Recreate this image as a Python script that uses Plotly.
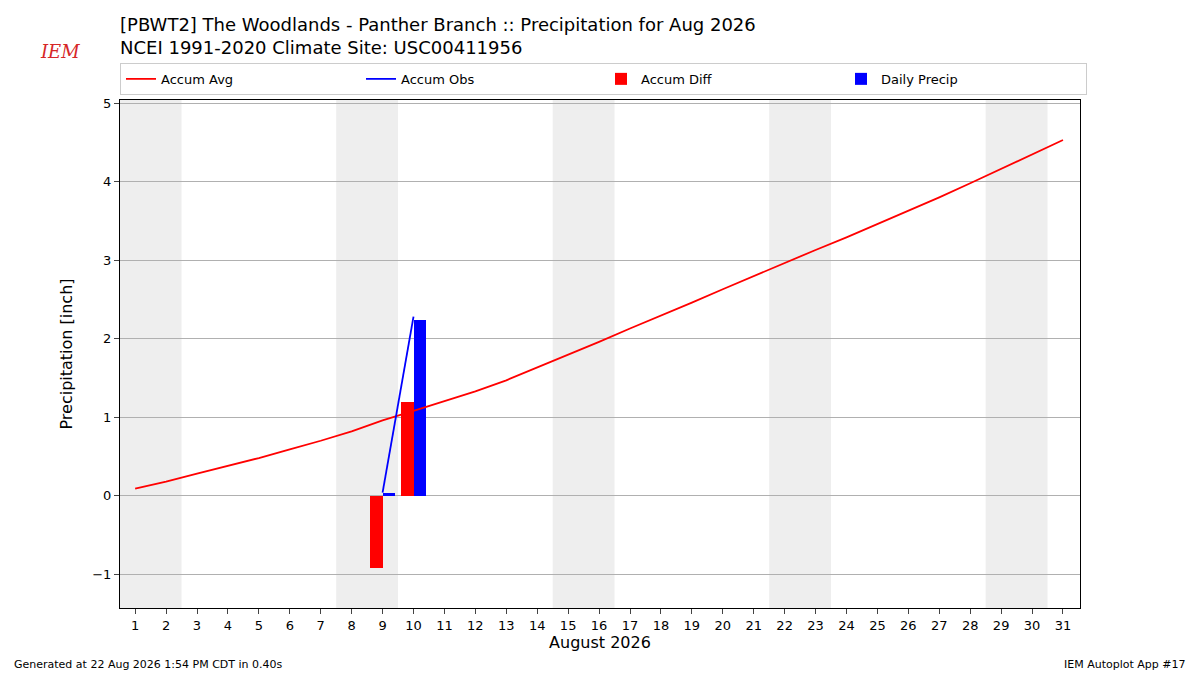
import plotly.graph_objects as go

days = list(range(1, 32))
accum_avg = [0.09, 0.18, 0.28, 0.38, 0.48, 0.59, 0.70, 0.82, 0.96, 1.08, 1.20, 1.33, 1.47, 1.63,
             1.79, 1.96, 2.13, 2.29, 2.46, 2.63, 2.80, 2.97, 3.13, 3.29, 3.46, 3.62, 3.80, 3.98,
             4.16, 4.35, 4.53]
obs_days = [9, 10]
accum_obs = [0.04, 2.28]
daily_precip = [0.04, 2.24]
accum_diff = [o - accum_avg[d - 1] for d, o in zip(obs_days, accum_obs)]
weekends = [(0.5, 2.5), (7.5, 9.5), (14.5, 16.5), (21.5, 23.5), (28.5, 30.5)]

fig = go.Figure()
fig.add_trace(go.Scatter(x=days, y=accum_avg, mode="lines", name="Accum Avg",
                         line=dict(color="red", width=1.8)))
fig.add_trace(go.Scatter(x=obs_days, y=accum_obs, mode="lines", name="Accum Obs",
                         line=dict(color="blue", width=1.8)))
fig.add_trace(go.Bar(x=[d - 0.2 for d in obs_days], y=accum_diff, width=0.4, name="Accum Diff",
                     marker=dict(color="red", line=dict(width=0))))
fig.add_trace(go.Bar(x=[d + 0.2 for d in obs_days], y=daily_precip, width=0.4, name="Daily Precip",
                     marker=dict(color="blue", line=dict(width=0))))

for a, b in weekends:
    fig.add_vrect(x0=a, x1=b, fillcolor="#eeeeee", line_width=0, layer="below")

fig.update_layout(
    width=1200, height=675, plot_bgcolor="white", paper_bgcolor="white",
    font=dict(family="DejaVu Sans", size=13, color="black"),
    margin=dict(l=112, r=128, t=92, b=75),
    barmode="overlay", bargap=0,
    title=dict(text="[PBWT2] The Woodlands - Panther Branch :: Precipitation for Aug 2026<br>"
                    "NCEI 1991-2020 Climate Site: USC00411956",
               x=112 / 1200, xanchor="left", y=0.966, yanchor="top", font=dict(size=18)),
    legend=dict(orientation="h", x=0, xanchor="left", y=1.01, yanchor="bottom",
                entrywidth=0.25, entrywidthmode="fraction",
                bordercolor="#cccccc", borderwidth=1, font=dict(size=13)),
    xaxis=dict(range=[0.51, 31.55], tickmode="array", tickvals=days, ticks="outside",
               title=dict(text="August 2026", font=dict(size=16), standoff=4),
               showline=True, linecolor="black", mirror=True, showgrid=False, zeroline=False),
    yaxis=dict(range=[-1.43, 5.04], tickvals=[-1, 0, 1, 2, 3, 4, 5],
               ticktext=["\u22121", "0", "1", "2", "3", "4", "5"], ticks="outside",
               title=dict(text="Precipitation [inch]", font=dict(size=16)),
               showline=True, linecolor="black", mirror=True,
               gridcolor="#b0b0b0", zeroline=False),
)
fig.add_annotation(text="Generated at 22 Aug 2026 1:54 PM CDT in 0.40s", xref="paper", yref="paper",
                   x=-0.1125, y=-0.112, xanchor="left", yanchor="middle", showarrow=False,
                   font=dict(size=11))
fig.add_annotation(text="IEM Autoplot App #17", xref="paper", yref="paper",
                   x=1.1125, y=-0.112, xanchor="right", yanchor="middle", showarrow=False,
                   font=dict(size=11))
fig.add_annotation(text="<i>IEM</i>", xref="paper", yref="paper", x=-0.085, y=1.12,
                   xanchor="left", showarrow=False,
                   font=dict(size=18, color="#d62728", family="DejaVu Serif"))

fig.write_html("out.html")
